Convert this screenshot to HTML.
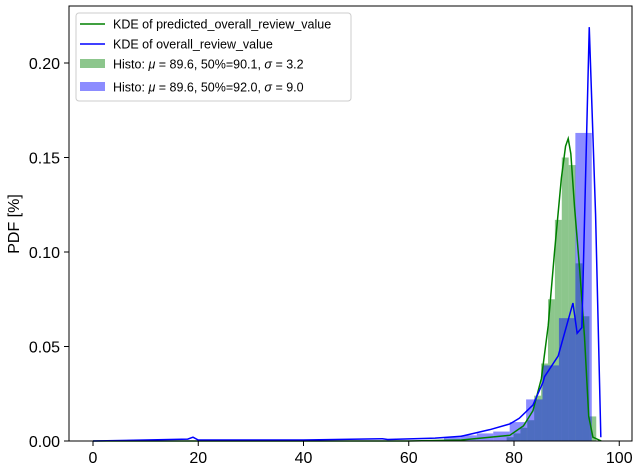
<!DOCTYPE html>
<html><head><meta charset="utf-8"><style>
body{margin:0;background:#fff;}
svg{display:block;font-family:"Liberation Sans","DejaVu Sans",sans-serif;}
</style></head><body>
<svg id="c" width="640" height="471"></svg>
<script>
const xTicks=[0,20,40,60,80,100];
const yTicks=[0,0.05,0.10,0.15,0.20];
const yTickLabels=["0.00","0.05","0.10","0.15","0.20"];
const blueBinStart=66.7, blueBinWidth=3.12;
const blueBars=[0.002,0.003,0.004,0.005,0.010,0.022,0.040,0.065,0.163];
const greenBinStart=78.6, greenBinWidth=1.31;
const greenBars=[0.002,0.004,0.007,0.011,0.024,0.041,0.075,0.117,0.150,0.146,0.094,0.066,0.013];
const blueKdeX=[0,10,18,19,20,25,40,55,56,65,70,75.4,79.2,81,83.6,85.5,85.8,88.4,90.7,91.2,92.0,92.9,94.3,95.5,96.5];
const blueKdeY=[0,0.0005,0.001,0.002,0.0005,0.0005,0.0005,0.0012,0.0008,0.0015,0.0025,0.006,0.009,0.012,0.019,0.031,0.034,0.045,0.068,0.073,0.057,0.060,0.219,0.120,0.002];
const greenKdeX=[0,60,70,75.4,79.2,81.8,83.6,85.2,86.5,87.7,89.0,89.8,90.3,90.8,91.5,92.5,93.4,94.2,95.0,96.6];
const greenKdeY=[0,0,0.0005,0.002,0.003,0.008,0.016,0.033,0.061,0.100,0.139,0.156,0.160,0.152,0.124,0.090,0.055,0.013,0.002,0];
const L=69,R=632,T=6,B=441;
const X=v=>93+v*5.2625;
const Y=v=>441-v*1890;
const s=document.getElementById('c');
const NS='http://www.w3.org/2000/svg';
function mk(t,a,p){const e=document.createElementNS(NS,t);for(const k in a)e.setAttribute(k,a[k]);(p||s).appendChild(e);return e;}
greenBars.forEach((v,i)=>{const x0=X(greenBinStart+i*greenBinWidth),x1=X(greenBinStart+(i+1)*greenBinWidth);
const r=mk('rect',{x:x0,y:Y(v),width:x1-x0,height:B-Y(v),fill:'#008000','fill-opacity':0.45});

});
blueBars.forEach((v,i)=>{const x0=X(blueBinStart+i*blueBinWidth),x1=X(blueBinStart+(i+1)*blueBinWidth);
const r=mk('rect',{x:x0,y:Y(v),width:x1-x0,height:B-Y(v),fill:'#0000ff','fill-opacity':0.45});

});
const gp=mk('polyline',{points:greenKdeX.map((x,i)=>X(x)+','+Y(greenKdeY[i])).join(' '),fill:'none',stroke:'green','stroke-width':1.5});


const bp=mk('polyline',{points:blueKdeX.map((x,i)=>X(x)+','+Y(blueKdeY[i])).join(' '),fill:'none',stroke:'blue','stroke-width':1.5});


const fr=mk('rect',{x:L,y:T,width:R-L,height:B-T,fill:'none',stroke:'#000','stroke-width':1});


xTicks.forEach(v=>{mk('line',{x1:X(v),x2:X(v),y1:B,y2:B+5,stroke:'#000'});
const t=mk('text',{x:X(v),y:B+22,'text-anchor':'middle','font-size':16});t.textContent=v;

});
yTicks.forEach((v,i)=>{mk('line',{x1:L-5,x2:L,y1:Y(v),y2:Y(v),stroke:'#000'});
const t=mk('text',{x:L-9,y:Y(v)+6,'text-anchor':'end','font-size':16});t.textContent=yTickLabels[i];

});
const yl=mk('text',{x:19,y:224,'text-anchor':'middle','font-size':16,transform:'rotate(-90 19 224)'});yl.textContent='PDF [%]';


const lg=mk('g',{});


mk('rect',{x:76,y:13,width:275,height:88,rx:3,fill:'#fff','fill-opacity':0.85,stroke:'#ccc'},lg);
const items=[['line','green','KDE of predicted_overall_review_value',24],['line','blue','KDE of overall_review_value',44],
['patch','#008000','Histo: <tspan font-style="italic">μ</tspan> = 89.6, 50%=90.1, <tspan font-style="italic">σ</tspan> = 3.2',64],
['patch','#0000ff','Histo: <tspan font-style="italic">μ</tspan> = 89.6, 50%=92.0, <tspan font-style="italic">σ</tspan> = 9.0',87]];
items.forEach(it=>{
if(it[0]==='line')mk('line',{x1:80,x2:105,y1:it[3],y2:it[3],stroke:it[1],'stroke-width':1.5},lg);
else mk('rect',{x:80,y:it[3]-5,width:25,height:9,fill:it[1],'fill-opacity':0.45},lg);
const t=mk('text',{x:113,y:it[3]+4.5,'font-size':12.5},lg);t.innerHTML=it[2];

});
</script>
</body></html>
